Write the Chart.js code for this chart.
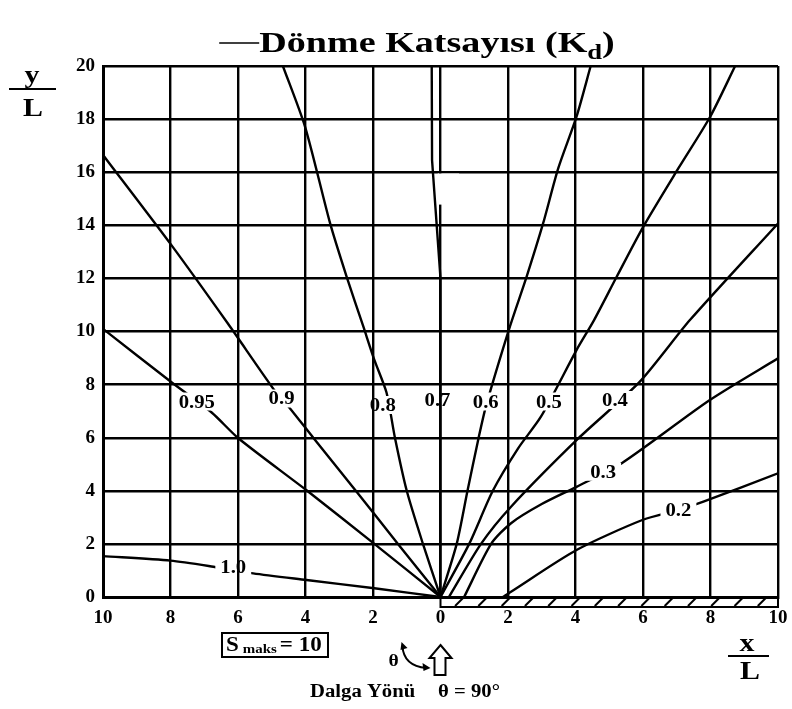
<!DOCTYPE html>
<html>
<head>
<meta charset="utf-8">
<title>Dönme Katsayısı</title>
<script src="https://cdn.jsdelivr.net/npm/chart.js@4.4.1/dist/chart.umd.min.js"></script>
<style>
  html, body { margin: 0; padding: 0; background: #fff; }
  #wrap { width: 792px; height: 709px; }
</style>
</head>
<body>
<div id="wrap"><canvas id="kdChart" width="792" height="709"></canvas></div>
<script>
// eksen değerleri (x/L, y/L)
const xTickValues = [-10, -8, -6, -4, -2, 0, 2, 4, 6, 8, 10];
const yTickValues = [0, 2, 4, 6, 8, 10, 12, 14, 16, 18, 20];

// Kd eğrileri: [x/L, y/L] noktaları
const kd100 = [[0, 0], [-1.96, 0.33], [-3.97, 0.64], [-5.55, 0.89], [-6.73, 1.14], [-8, 1.37], [-10, 1.54]];
const kd095 = [[0, 0], [-1.96, 2.0], [-3.97, 4.02], [-5.99, 5.98], [-6.78, 6.95], [-7.98, 8.1], [-10, 10.1]];
const kd090 = [[0, 0], [-1.26, 2], [-2.51, 4], [-3.77, 6], [-4.5, 7.17], [-4.9, 7.75], [-6.3, 10.3], [-8, 13.3], [-10, 16.65]];
const kd080 = [[0, 0], [-0.52, 2], [-1.0, 4], [-1.35, 6], [-1.6, 7.7], [-1.96, 8.93], [-2.29, 10.2], [-2.78, 12.06], [-3.27, 14.07], [-4.01, 17.7], [-4.67, 20]];
const kd070 = [[0, 0], [0, 12], [-0.25, 16.45], [-0.26, 20]];
const kd060 = [[0, 0], [0.48, 2], [0.8, 4], [1.13, 6], [1.35, 7.2], [2.06, 10.2], [2.55, 12.06], [3.04, 14.07], [3.49, 16.15], [4.03, 18.09], [4.45, 20]];
const kd050 = [[0, 0], [0.85, 2], [1.55, 4], [2.3, 5.6], [2.98, 6.8], [4.03, 9.3], [4.55, 10.43], [5.22, 12.06], [6.01, 13.95], [7.05, 16.15], [7.99, 18.09], [8.73, 20]];
const kd040 = [[0.25, 0], [1.2, 2], [2.09, 3.4], [4.09, 5.98], [5.9, 8.1], [7.39, 10.43], [10, 14.07]];
const kd030 = [[0.7, 0], [1.5, 2], [2.09, 2.78], [3.0, 3.5], [4.03, 4.15], [5.37, 5.04], [7.98, 7.42], [10, 8.99]];
const kd020 = [[1.85, 0], [2.09, 0.2], [4.03, 1.77], [5.98, 2.9], [7.06, 3.28], [7.79, 3.59], [10, 4.66]];

const kdCurves = [kd100, kd095, kd090, kd080, kd070, kd060, kd050, kd040, kd030, kd020];
const kdLabels = ['1.0', '0.95', '0.9', '0.8', '0.7', '0.6', '0.5', '0.4', '0.3', '0.2'];
// etiketlerin eğri üzerindeki yeri (x/L, y/L)
const kdLabelX = [-6.14, -7.22, -4.71, -1.71, -0.09, 1.34, 3.21, 5.17, 4.82, 7.05];
const kdLabelY = [1.14, 7.36, 7.48, 7.23, 7.42, 7.36, 7.36, 7.42, 4.72, 3.28];

const SERIF = '"Liberation Serif", "DejaVu Serif", serif';
const SX = 1.15; // yazılar biraz geniş

// yatay olarak genişletilmiş kalın yazı
function wideText(ctx, text, x, y, size, align, sx) {
    const k = sx || SX;
    ctx.save();
    ctx.font = 'bold ' + size + 'px ' + SERIF;
    const w = ctx.measureText(text).width * k;
    let left = x;
    if (align === 'center') left = x - w / 2;
    if (align === 'right') left = x - w;
    ctx.translate(left, y);
    ctx.scale(k, 1);
    ctx.textAlign = 'left';
    ctx.textBaseline = 'alphabetic';
    ctx.fillStyle = '#000';
    ctx.fillText(text, 0, 0);
    ctx.restore();
    return w;
}

function textWidth(ctx, text, size, sx) {
    ctx.save();
    ctx.font = 'bold ' + size + 'px ' + SERIF;
    const w = ctx.measureText(text).width * (sx || SX);
    ctx.restore();
    return w;
}

// etiket kutuları (eğrilerde boşluk bırakmak için)
function labelBoxes(chart) {
    const xs = chart.scales.x, ys = chart.scales.y, ctx = chart.ctx;
    return kdLabels.map((t, i) => {
        const cx = xs.getPixelForValue(kdLabelX[i]);
        const cy = ys.getPixelForValue(kdLabelY[i]);
        const w = textWidth(ctx, t, 18) + 10;
        return { t, cx, cy, x: cx - w / 2, y: cy - 9, w, h: 18 };
    });
}

const decorPlugin = {
    id: 'decor',
    beforeDatasetsDraw(chart) {
        const ctx = chart.ctx, xs = chart.scales.x, ys = chart.scales.y;
        const a = chart.chartArea;
        // x=0 çizgisindeki küçük boşluk
        ctx.save();
        ctx.fillStyle = '#fff';
        const gx0 = xs.getPixelForValue(-0.08), gx1 = xs.getPixelForValue(0.55);
        const gy0 = ys.getPixelForValue(15.95), gy1 = ys.getPixelForValue(14.78);
        ctx.fillRect(gx0, gy0, gx1 - gx0, gy1 - gy0);
        ctx.restore();
        // eğrileri etiketlerin altında kes
        ctx.save();
        ctx.beginPath();
        ctx.rect(a.left - 5, a.top - 5, a.right - a.left + 10, a.bottom - a.top + 10);
        labelBoxes(chart).forEach(b => {
            if (b.t === '0.7') return;
            ctx.rect(b.x, b.y, b.w, b.h);
        });
        ctx.clip('evenodd');
    },
    afterDatasetsDraw(chart) {
        const ctx = chart.ctx;
        ctx.restore();
        labelBoxes(chart).forEach(b => {
            wideText(ctx, b.t, b.cx, b.cy + 6, 18, 'center');
        });
    },
    afterDraw(chart) {
        const ctx = chart.ctx, xs = chart.scales.x;
        const a = chart.chartArea;
        ctx.save();
        ctx.strokeStyle = '#000';
        ctx.fillStyle = '#000';

        // dalgakıran (taralı şerit) x = 0 .. 10
        const hx0 = xs.getPixelForValue(0), hx1 = xs.getPixelForValue(10);
        const hy0 = a.bottom, hy1 = a.bottom + 10;
        ctx.lineWidth = 2;
        ctx.strokeRect(hx0, hy0, hx1 - hx0, hy1 - hy0);
        ctx.lineWidth = 2;
        for (let v = 0.55; v < 9.8; v += 0.69) {
            const px = xs.getPixelForValue(v);
            ctx.beginPath();
            ctx.moveTo(px - 4, hy1 - 1);
            ctx.lineTo(px + 4, hy0 + 1);
            ctx.stroke();
        }

        // başlık
        const tSize = 30, tsx = 1.27;
        const main = 'Dönme Katsayısı (K';
        const wMain = textWidth(ctx, main, tSize, tsx);
        const wSub = textWidth(ctx, 'd', 21, tsx);
        const wEnd = textWidth(ctx, ')', tSize, tsx);
        const dash = 40;
        let tx = 417 - (dash + wMain + wSub + wEnd) / 2;
        const tBase = 52;
        ctx.lineWidth = 1.5;
        ctx.beginPath();
        ctx.moveTo(tx, tBase - 9);
        ctx.lineTo(tx + dash, tBase - 9);
        ctx.stroke();
        tx += dash;
        tx += wideText(ctx, main, tx, tBase, tSize, 'left', tsx);
        tx += wideText(ctx, 'd', tx, tBase + 7, 21, 'left', tsx);
        wideText(ctx, ')', tx, tBase, tSize, 'left', tsx);

        // y/L
        wideText(ctx, 'y', 32, 83, 26, 'center');
        ctx.lineWidth = 2;
        ctx.beginPath(); ctx.moveTo(9, 89); ctx.lineTo(56, 89); ctx.stroke();
        wideText(ctx, 'L', 33, 116, 26, 'center');

        // x/L
        wideText(ctx, 'x', 747, 651, 26, 'center');
        ctx.beginPath(); ctx.moveTo(728, 656); ctx.lineTo(769, 656); ctx.stroke();
        wideText(ctx, 'L', 750, 679, 26, 'center');

        // S maks kutusu
        ctx.lineWidth = 2;
        ctx.strokeRect(222, 633, 106, 24);
        let sx = 226;
        sx += wideText(ctx, 'S', sx, 651, 20, 'left') + 4;
        sx += wideText(ctx, 'maks', sx, 653, 13, 'left') + 3;
        wideText(ctx, '= 10', sx, 651, 20, 'left');

        // dalga yönü oku
        const ox = xs.getPixelForValue(0);
        ctx.lineWidth = 2;
        ctx.fillStyle = '#fff';
        ctx.beginPath();
        ctx.moveTo(ox, 645);
        ctx.lineTo(ox + 11, 658);
        ctx.lineTo(ox + 5, 658);
        ctx.lineTo(ox + 5, 675);
        ctx.lineTo(ox - 6, 675);
        ctx.lineTo(ox - 6, 658);
        ctx.lineTo(ox - 11, 658);
        ctx.closePath();
        ctx.fill();
        ctx.stroke();
        ctx.fillStyle = '#000';

        // θ açısı için kavisli ok
        const p0 = { x: ox - 39, y: 642 }, pc = { x: ox - 37, y: 666 }, p1 = { x: ox - 10, y: 668 };
        ctx.lineWidth = 2;
        ctx.beginPath();
        ctx.moveTo(p0.x + 1, p0.y + 4);
        ctx.quadraticCurveTo(pc.x, pc.y, p1.x - 4, p1.y);
        ctx.stroke();
        ctx.beginPath();
        ctx.moveTo(p0.x, p0.y);
        ctx.lineTo(p0.x + 6, p0.y + 6);
        ctx.lineTo(p0.x - 1, p0.y + 8);
        ctx.closePath();
        ctx.fill();
        ctx.beginPath();
        ctx.moveTo(p1.x, p1.y);
        ctx.lineTo(p1.x - 8, p1.y - 5);
        ctx.lineTo(p1.x - 7, p1.y + 3);
        ctx.closePath();
        ctx.fill();
        wideText(ctx, 'θ', ox - 47, 666, 17, 'center');

        // dalga yönü yazısı
        wideText(ctx, 'Dalga Yönü', 310, 697, 18, 'left');
        wideText(ctx, 'θ = 90°', 438, 697, 18, 'left');

        ctx.restore();
    }
};

const tickFont = { family: SERIF, weight: 'bold', size: 19 };

const datasets = kdCurves.map((pts, i) => ({
    label: kdLabels[i],
    data: pts.map(p => ({ x: p[0], y: p[1] })),
    showLine: true,
    fill: false,
    pointRadius: 0,
    borderColor: '#000',
    borderWidth: 2.4,
    tension: kdLabels[i] === '0.7' ? 0 : 0.25
}));

new Chart(document.getElementById('kdChart'), {
    type: 'scatter',
    data: { datasets },
    options: {
        responsive: false,
        animation: false,
        layout: { padding: { top: 66, right: 14, bottom: 72, left: 0 } },
        plugins: {
            legend: { display: false },
            tooltip: { enabled: false },
            title: { display: false }
        },
        scales: {
            x: {
                type: 'linear',
                min: -10,
                max: 10,
                afterBuildTicks(scale) { scale.ticks = xTickValues.map(v => ({ value: v })); },
                afterFit(scale) {
                    scale.height = 40;
                    scale.paddingLeft = 0;
                    scale.paddingRight = 0;
                },
                ticks: {
                    color: '#000',
                    font: tickFont,
                    padding: 10,
                    maxRotation: 0,
                    callback: v => String(Math.abs(v))
                },
                grid: { color: '#000', lineWidth: 2.4, drawTicks: false },
                border: { color: '#000', width: 3 }
            },
            y: {
                type: 'linear',
                min: 0,
                max: 20,
                afterBuildTicks(scale) { scale.ticks = yTickValues.map(v => ({ value: v })); },
                afterFit(scale) {
                    scale.width = 103;
                    scale.paddingTop = 0;
                    scale.paddingBottom = 0;
                },
                ticks: {
                    color: '#000',
                    font: tickFont,
                    padding: 8
                },
                grid: { color: '#000', lineWidth: 2.4, drawTicks: false },
                border: { color: '#000', width: 3 }
            }
        }
    },
    plugins: [decorPlugin]
});
</script>
</body>
</html>
